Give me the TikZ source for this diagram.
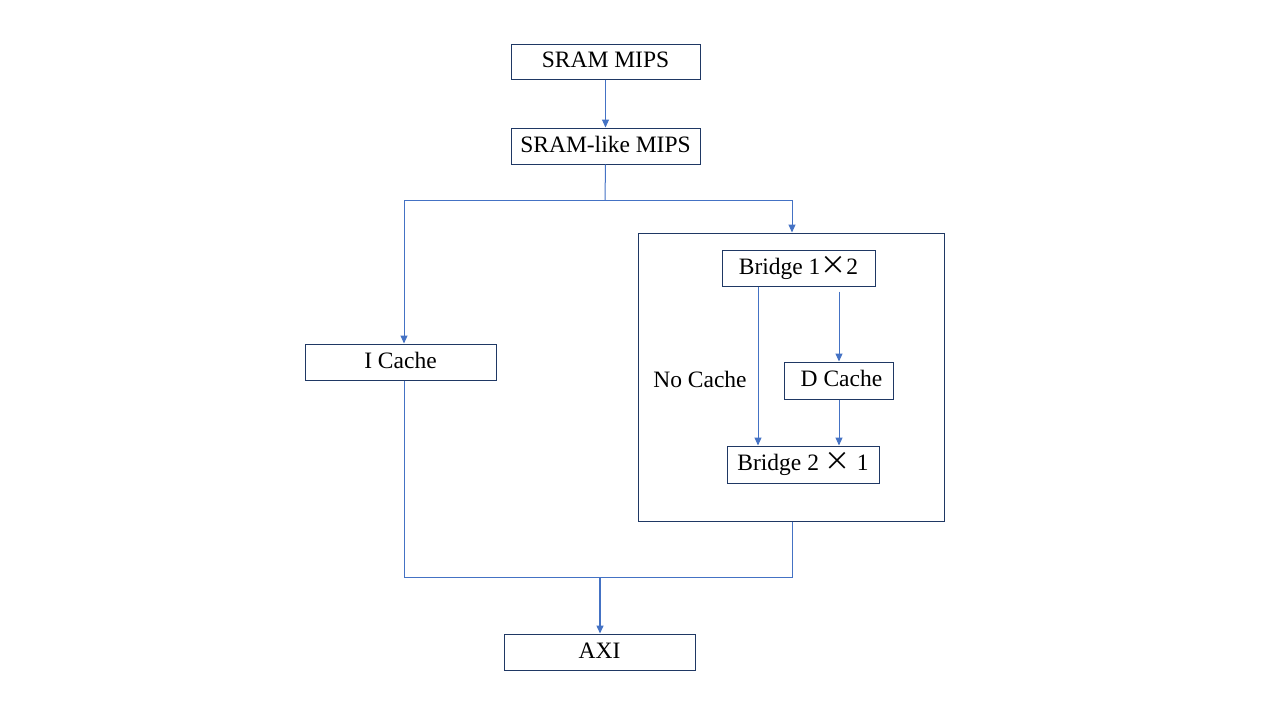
\documentclass[tikz,border=0pt]{standalone}
\usepackage{fontspec}
\setmainfont{Liberation Serif}
\newfontfamily\cjk{Noto Sans CJK SC}
\usetikzlibrary{arrows.meta}
\definecolor{lineblue}{HTML}{4472C4}
\definecolor{boxnavy}{HTML}{1F3864}
\newcommand{\bigx}{{\cjk\fontsize{26}{26}\selectfont ×}}
\begin{document}
\begin{tikzpicture}[x=1pt,y=-1pt,
  txt/.style={font=\fontsize{23.5}{26}\selectfont,text height=16pt,text depth=4pt},
  box/.style={draw=boxnavy,line width=1pt,inner sep=0pt,txt},
  conn/.style={draw=lineblue,line width=1pt},
  arr/.style={conn,-{Triangle[width=7pt,length=8pt]}}]
\useasboundingbox (0,0) rectangle (1280,720);
\node[box,minimum width=189pt,minimum height=35pt] (mips) at (605.5,61.5) {SRAM MIPS};
\node[box,minimum width=189pt,minimum height=36pt] (like) at (605.5,146) {SRAM-like MIPS};
\node[box,minimum width=191pt,minimum height=36pt] (icache) at (400.5,362) {I Cache};
\node[draw=boxnavy,line width=1pt,minimum width=306pt,minimum height=288pt,inner sep=0pt] (cbox) at (791,377) {};
\node[box,minimum width=153pt,minimum height=36pt] (b12) at (798.5,268) {Bridge 1\bigx2};
\node[box,minimum width=109pt,minimum height=37pt] (dcache) at (838.5,380.5) {\ D Cache};
\node[box,minimum width=152pt,minimum height=37pt] (b21) at (803,464.5) {Bridge 2 \bigx\ 1};
\node[box,minimum width=191pt,minimum height=36pt] (axi) at (599.5,652) {AXI};
\node[txt,inner sep=0pt] (nc) at (700,381) {No Cache};
\coordinate (split) at (605,200);
\coordinate (join) at (600,577);
\draw[arr] (mips) -- (like);
\draw[conn] (like.south) -- (split);
\draw[arr] (split) -| (icache.north -| 404,0);
\draw[arr] (split) -| (cbox.north -| 792,0);
\draw[arr] (b12.south -| 758,0) -- (b21.north -| 758,0);
\draw[arr,shorten <=5pt] (b12.south -| 839,0) -- (dcache.north -| 839,0);
\draw[arr] (dcache.south -| 839,0) -- (b21.north -| 839,0);
\draw[conn] (icache.south -| 404,0) |- (join);
\draw[conn] (cbox.south -| 792,0) |- (join);
\draw[arr,line width=1.5pt] (join) -- (axi.north -| join);
\end{tikzpicture}
\end{document}
